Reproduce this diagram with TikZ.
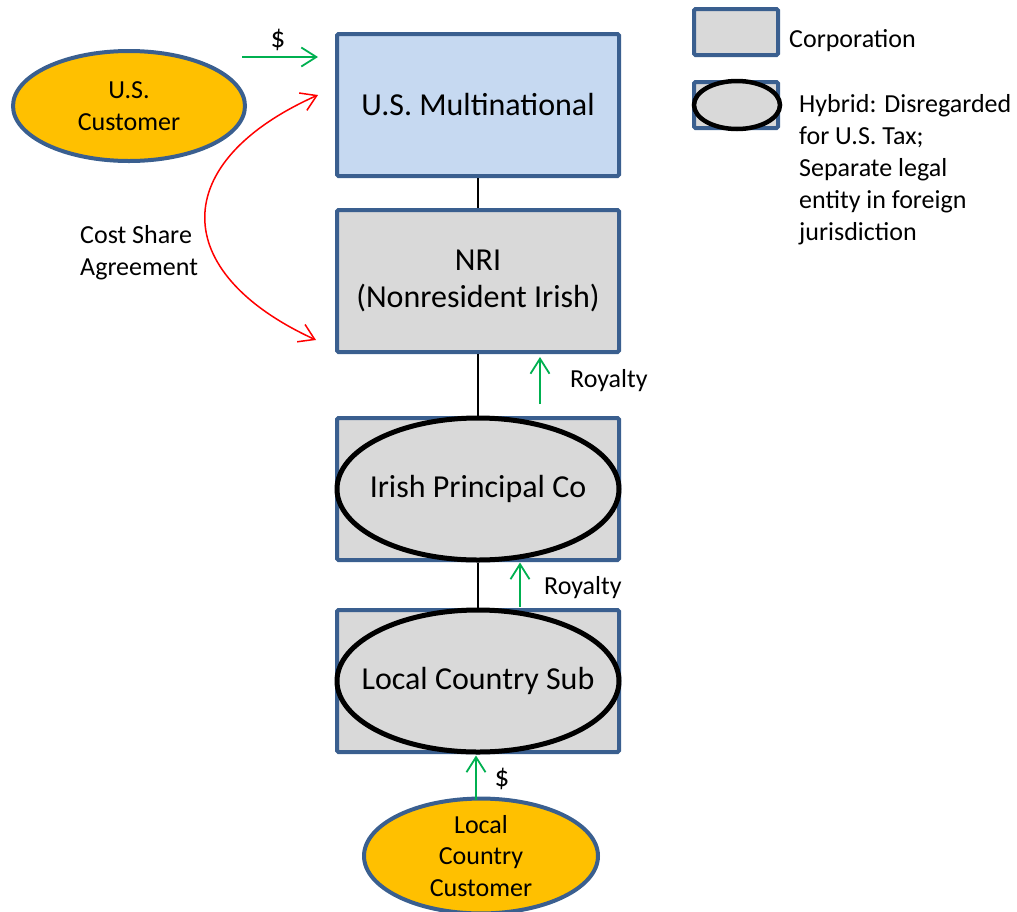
\documentclass[tikz,border=0pt]{standalone}
\usepackage{fontspec}
\setmainfont{Carlito}
\usetikzlibrary{arrows.meta,shapes.geometric}
\definecolor{bord}{HTML}{3A5F8F}
\definecolor{boxblue}{HTML}{C6D9F1}
\definecolor{boxgray}{HTML}{D9D9D9}
\definecolor{custyel}{HTML}{FFC000}
\definecolor{mgreen}{HTML}{00B050}
\definecolor{mred}{HTML}{FF0000}
\begin{document}
\begin{tikzpicture}[x=1pt,y=-1pt,
  corp/.style={draw=bord, line width=4pt, fill=boxgray, rectangle, rounded corners=1.5pt, minimum width=282pt, minimum height=142pt, inner sep=0pt, font=\fontsize{32}{37}\selectfont, align=center},
  hyb/.style={draw=black, line width=5pt, fill=boxgray, ellipse, minimum width=282pt, minimum height=142pt, inner sep=0pt, font=\fontsize{32}{37}\selectfont},
  cust/.style={draw=bord, line width=4pt, fill=custyel, ellipse, inner sep=0pt, font=\fontsize{26}{31.5}\selectfont, align=center},
  small/.style={font=\fontsize{26}{32}\selectfont, inner sep=0pt},
  dollar/.style={font=\fontsize{29}{32}\selectfont, inner sep=0pt},
  garrow/.style={draw=mgreen, line width=1.8pt, -{Straight Barb[length=15pt,width=19pt,line width=1.8pt]}},
  rarrow/.style={draw=mred, line width=1.5pt, {Straight Barb[length=15pt,width=19pt,line width=1.5pt]}-{Straight Barb[length=15pt,width=19pt,line width=1.5pt]}},
  link/.style={draw=black, line width=1.3pt}
]
\useasboundingbox (0,0) rectangle (1017,911);

% main boxes
\node[corp, fill=boxblue] (us) at (478,105) {U.S. Multinational};
\node[corp] (nri) at (478,281) {NRI\\(Nonresident Irish)};
\node[corp] (irishbox) at (478,489) {};
\node[hyb] (irish) at (478,489) {\makebox[0pt]{Irish Principal Co}};
\node[corp] (localbox) at (478,681) {};
\node[hyb] (local) at (478,681) {\makebox[0pt]{Local Country Sub}};

% links
\draw[link] (us.south) -- (nri.north);
\draw[link] (nri.south) -- (irish.north);
\draw[link] (irish.south) -- (local.north);

% customers
\node[cust, minimum width=232pt, minimum height=110pt] (uscust) at (129,106) {U.S.\\Customer};
\node[cust, minimum width=234pt, minimum height=108pt] (lcust) at (481,856) {Local\\Country\\Customer};

% green arrows
\coordinate (d1a) at (242,57);
\coordinate (d1b) at (318,57);
\draw[garrow] (d1a) -- (d1b);
\node[dollar] (d1l) at (278,40) {\$};

\coordinate (r1a) at (540,404);
\draw[garrow, shorten >=3pt] (r1a) -- (r1a |- nri.south);
\node[small, anchor=west] (r1l) at (570,381) {Royalty};

\coordinate (r2a) at (520,607);
\draw[garrow] (r2a) -- (r2a |- irish.south);
\node[small, anchor=west] (r2l) at (544,588) {Royalty};

\coordinate (d2a) at (476,800);
\draw[garrow, shorten >=1pt] (d2a) -- (d2a |- local.south);
\node[dollar] (d2l) at (502,779) {\$};

% cost share curve
\coordinate (cs1) at (318,95);
\coordinate (cs2) at (316,340);
\draw[rarrow] (cs1) .. controls (168,162) and (168,272) .. (cs2);
\node[small, anchor=west, align=left] (csl) at (80,253) {Cost Share\\Agreement};

% legend
\node[corp, minimum width=84pt, minimum height=46pt] (leg1) at (736,32) {};
\node[small, anchor=west] (leg1t) at (789,41) {Corporation};
\node[corp, minimum width=84pt, minimum height=46pt] (leg2) at (736,105) {};
\node[hyb, line width=4.5pt, minimum width=86pt, minimum height=48pt] (leg2e) at (737,105) {};
\node[small, anchor=north west, align=left] (leg2t) at (799,94) {Hybrid: Disregarded\\for U.S. Tax;\\Separate legal\\entity in foreign\\jurisdiction};
\end{tikzpicture}
\end{document}
